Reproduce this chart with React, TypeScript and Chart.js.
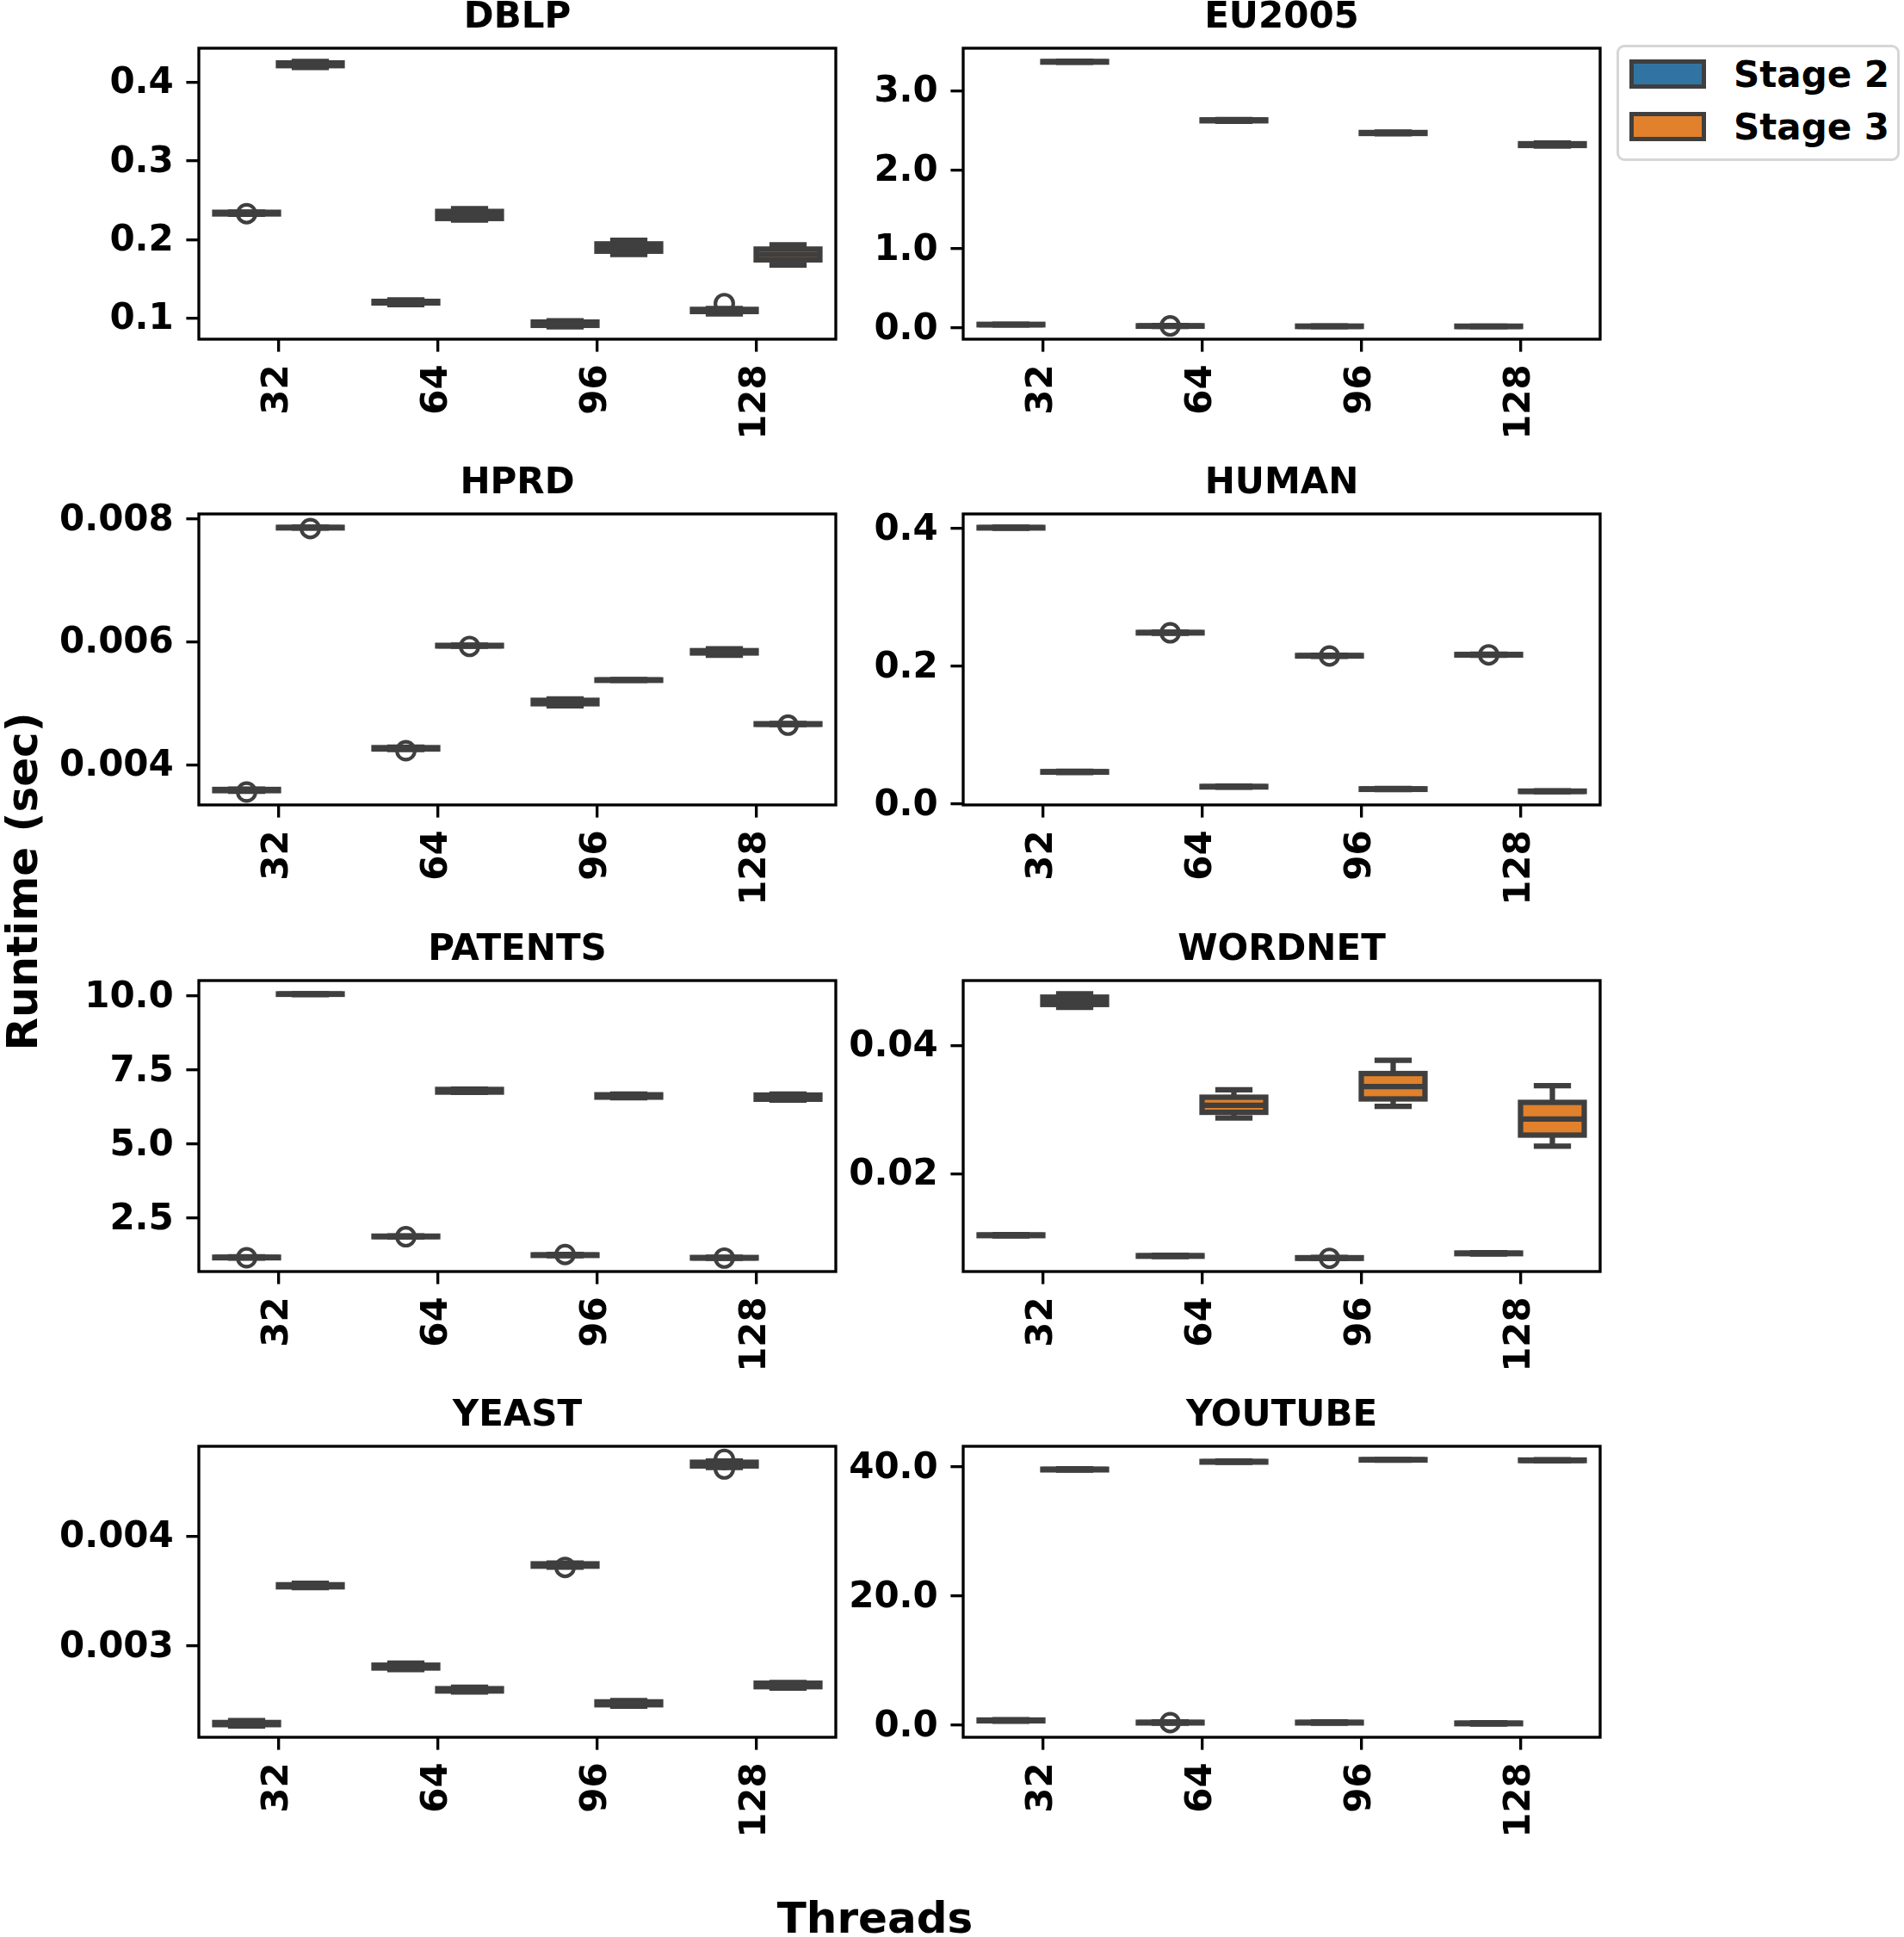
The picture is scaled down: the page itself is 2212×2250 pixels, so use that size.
import React, { useEffect, useRef } from 'react';
import { Chart, registerables } from 'chart.js';

Chart.register(...registerables);

// ---------- data ----------
const THREADS = ['32', '64', '96', '128'];
const SERIES = ['Stage 2', 'Stage 3'];

// Box summaries per thread count: [lower whisker, Q1, median, Q3, upper whisker]
const DBLP_STAGE2 = [
  [0.2322, 0.2325, 0.2335, 0.2346, 0.2349],
  [0.1171, 0.1193, 0.1203, 0.1213, 0.1232],
  [0.0890, 0.0908, 0.0930, 0.0950, 0.0966],
  [0.1054, 0.1084, 0.1098, 0.1111, 0.1122],
];
const DBLP_STAGE3 = [
  [0.4187, 0.4211, 0.4228, 0.4246, 0.4265],
  [0.2248, 0.2267, 0.2312, 0.2357, 0.2393],
  [0.1810, 0.1851, 0.1897, 0.1944, 0.1991],
  [0.1675, 0.1741, 0.1809, 0.1878, 0.1933],
];
const DBLP_STAGE2_OUTLIERS = [[0.2328], [], [], [0.1185]];
const DBLP_STAGE3_OUTLIERS = [[], [], [], []];
const DBLP_TICKS = [0.1, 0.2, 0.3, 0.4];
const DBLP_RANGE = [0.0732, 0.4433];

const EU2005_STAGE2 = [
  [0.036, 0.038, 0.041, 0.044, 0.046],
  [0.018, 0.020, 0.023, 0.026, 0.028],
  [0.016, 0.017, 0.019, 0.022, 0.023],
  [0.015, 0.016, 0.018, 0.021, 0.022],
];
const EU2005_STAGE3 = [
  [3.360, 3.363, 3.367, 3.371, 3.374],
  [2.615, 2.620, 2.626, 2.632, 2.637],
  [2.455, 2.460, 2.466, 2.472, 2.478],
  [2.300, 2.308, 2.319, 2.330, 2.338],
];
const EU2005_STAGE2_OUTLIERS = [[], [0.024], [], []];
const EU2005_STAGE3_OUTLIERS = [[], [], [], []];
const EU2005_TICKS = [0, 1, 2, 3];
const EU2005_RANGE = [-0.144, 3.539];

const HPRD_STAGE2 = [
  [0.003570, 0.003578, 0.003588, 0.003598, 0.003605],
  [0.004248, 0.004256, 0.004266, 0.004278, 0.004285],
  [0.004957, 0.004992, 0.005020, 0.005048, 0.005069],
  [0.005783, 0.005818, 0.005840, 0.005856, 0.005888],
];
const HPRD_STAGE3 = [
  [0.007850, 0.007853, 0.007858, 0.007862, 0.007865],
  [0.005929, 0.005932, 0.005937, 0.005942, 0.005946],
  [0.005370, 0.005373, 0.005377, 0.005381, 0.005384],
  [0.004654, 0.004657, 0.004662, 0.004667, 0.004670],
];
const HPRD_STAGE2_OUTLIERS = [[0.003556], [0.004228], [], []];
const HPRD_STAGE3_OUTLIERS = [[0.007842], [0.005925], [], [0.004644]];
const HPRD_TICKS = [0.004, 0.006, 0.008];
const HPRD_RANGE = [0.003346, 0.00808];

const HUMAN_STAGE2 = [
  [0.4005, 0.4009, 0.4013, 0.4017, 0.4021],
  [0.2480, 0.2484, 0.2488, 0.2492, 0.2496],
  [0.2145, 0.2149, 0.2153, 0.2157, 0.2161],
  [0.2160, 0.2164, 0.2168, 0.2172, 0.2176],
];
const HUMAN_STAGE3 = [
  [0.0458, 0.0462, 0.0466, 0.0470, 0.0474],
  [0.0243, 0.0247, 0.0251, 0.0255, 0.0259],
  [0.0208, 0.0212, 0.0216, 0.0220, 0.0224],
  [0.0178, 0.0181, 0.0184, 0.0187, 0.0190],
];
const HUMAN_STAGE2_OUTLIERS = [[], [0.2486], [0.2150], [0.2166]];
const HUMAN_STAGE3_OUTLIERS = [[], [], [], []];
const HUMAN_TICKS = [0, 0.2, 0.4];
const HUMAN_RANGE = [-0.0014, 0.4213];

const PATENTS_STAGE2 = [
  [1.15, 1.16, 1.17, 1.18, 1.19],
  [1.86, 1.87, 1.88, 1.89, 1.90],
  [1.23, 1.24, 1.25, 1.26, 1.27],
  [1.14, 1.15, 1.16, 1.17, 1.18],
];
const PATENTS_STAGE3 = [
  [10.04, 10.05, 10.06, 10.065, 10.068],
  [6.74, 6.75, 6.79, 6.84, 6.85],
  [6.56, 6.58, 6.62, 6.66, 6.68],
  [6.48, 6.51, 6.58, 6.65, 6.68],
];
const PATENTS_STAGE2_OUTLIERS = [[1.16], [1.87], [1.27], [1.15]];
const PATENTS_STAGE3_OUTLIERS = [[], [], [], []];
const PATENTS_TICKS = [2.5, 5.0, 7.5, 10.0];
const PATENTS_RANGE = [0.696, 10.514];

const WORDNET_STAGE2 = [
  [0.01025, 0.01030, 0.01036, 0.01042, 0.01047],
  [0.00703, 0.00708, 0.00713, 0.00718, 0.00723],
  [0.00672, 0.00675, 0.00680, 0.00685, 0.00688],
  [0.00743, 0.00748, 0.00753, 0.00758, 0.00763],
];
const WORDNET_STAGE3 = [
  [0.04598, 0.04642, 0.04700, 0.04757, 0.04809],
  [0.02870, 0.02957, 0.03068, 0.03193, 0.03310],
  [0.03051, 0.03166, 0.03358, 0.03563, 0.03769],
  [0.02429, 0.02601, 0.02852, 0.03112, 0.03374],
];
const WORDNET_STAGE2_OUTLIERS = [[], [], [0.00676], []];
const WORDNET_STAGE3_OUTLIERS = [[], [], [], []];
const WORDNET_TICKS = [0.02, 0.04];
const WORDNET_RANGE = [0.00469, 0.05016];

const YEAST_STAGE2 = [
  [0.002269, 0.002281, 0.002291, 0.0023005, 0.002319],
  [0.0027841, 0.0027975, 0.002811, 0.0028234, 0.0028422],
  [0.003718, 0.0037261, 0.003737, 0.0037473, 0.003755],
  [0.004625, 0.0046398, 0.004656, 0.0046735, 0.004685],
];
const YEAST_STAGE3 = [
  [0.0035298, 0.0035377, 0.003547, 0.0035565, 0.0035706],
  [0.002580, 0.002588, 0.002598, 0.002609, 0.002622],
  [0.002450, 0.0024623, 0.002476, 0.0024889, 0.002500],
  [0.002615, 0.002627, 0.002643, 0.002659, 0.002666],
];
const YEAST_STAGE2_OUTLIERS = [[], [], [0.003715], [0.004700, 0.004612]];
const YEAST_STAGE3_OUTLIERS = [[], [], [], []];
const YEAST_TICKS = [0.003, 0.004];
const YEAST_RANGE = [0.002166, 0.004819];

const YOUTUBE_STAGE2 = [
  [0.62, 0.68, 0.74, 0.80, 0.86],
  [0.30, 0.35, 0.40, 0.45, 0.50],
  [0.30, 0.35, 0.40, 0.45, 0.50],
  [0.18, 0.23, 0.28, 0.33, 0.38],
];
const YOUTUBE_STAGE3 = [
  [39.50, 39.55, 39.60, 39.65, 39.70],
  [40.70, 40.75, 40.80, 40.85, 40.90],
  [41.05, 41.08, 41.12, 41.14, 41.15],
  [40.95, 40.99, 41.03, 41.07, 41.10],
];
const YOUTUBE_STAGE2_OUTLIERS = [[], [0.40], [], []];
const YOUTUBE_STAGE3_OUTLIERS = [[], [], [], []];
const YOUTUBE_TICKS = [0, 20, 40];
const YOUTUBE_RANGE = [-1.87, 43.2];

type Panel = {
  title: string;
  stage2: number[][];
  stage3: number[][];
  out2: number[][];
  out3: number[][];
  ticks: number[];
  range: number[];
  decimals: number;
};

const PANELS: Panel[] = [
  { title: 'DBLP', stage2: DBLP_STAGE2, stage3: DBLP_STAGE3, out2: DBLP_STAGE2_OUTLIERS, out3: DBLP_STAGE3_OUTLIERS, ticks: DBLP_TICKS, range: DBLP_RANGE, decimals: 1 },
  { title: 'EU2005', stage2: EU2005_STAGE2, stage3: EU2005_STAGE3, out2: EU2005_STAGE2_OUTLIERS, out3: EU2005_STAGE3_OUTLIERS, ticks: EU2005_TICKS, range: EU2005_RANGE, decimals: 1 },
  { title: 'HPRD', stage2: HPRD_STAGE2, stage3: HPRD_STAGE3, out2: HPRD_STAGE2_OUTLIERS, out3: HPRD_STAGE3_OUTLIERS, ticks: HPRD_TICKS, range: HPRD_RANGE, decimals: 3 },
  { title: 'HUMAN', stage2: HUMAN_STAGE2, stage3: HUMAN_STAGE3, out2: HUMAN_STAGE2_OUTLIERS, out3: HUMAN_STAGE3_OUTLIERS, ticks: HUMAN_TICKS, range: HUMAN_RANGE, decimals: 1 },
  { title: 'PATENTS', stage2: PATENTS_STAGE2, stage3: PATENTS_STAGE3, out2: PATENTS_STAGE2_OUTLIERS, out3: PATENTS_STAGE3_OUTLIERS, ticks: PATENTS_TICKS, range: PATENTS_RANGE, decimals: 1 },
  { title: 'WORDNET', stage2: WORDNET_STAGE2, stage3: WORDNET_STAGE3, out2: WORDNET_STAGE2_OUTLIERS, out3: WORDNET_STAGE3_OUTLIERS, ticks: WORDNET_TICKS, range: WORDNET_RANGE, decimals: 2 },
  { title: 'YEAST', stage2: YEAST_STAGE2, stage3: YEAST_STAGE3, out2: YEAST_STAGE2_OUTLIERS, out3: YEAST_STAGE3_OUTLIERS, ticks: YEAST_TICKS, range: YEAST_RANGE, decimals: 3 },
  { title: 'YOUTUBE', stage2: YOUTUBE_STAGE2, stage3: YOUTUBE_STAGE3, out2: YOUTUBE_STAGE2_OUTLIERS, out3: YOUTUBE_STAGE3_OUTLIERS, ticks: YOUTUBE_TICKS, range: YOUTUBE_RANGE, decimals: 1 },
];

// ---------- styling & layout ----------
const FONT_FAMILY = '"DejaVu Sans", "Liberation Sans", sans-serif';
const TEXT_SIZE = 42;
const LABEL_SIZE = 50;
const BLUE = '#3274a1';
const ORANGE = '#e1812c';
const LINE_COLOR = '#3f3f3f';

const PLOT_W = 740;
const PLOT_H = 338;
const Y_AXIS_W = 230;
const X_AXIS_H = 130;
const TITLE_SPACE = 56;
const RIGHT_PAD = 10;
const CANVAS_W = Y_AXIS_W + PLOT_W + RIGHT_PAD;
const CANVAS_H = TITLE_SPACE + PLOT_H + X_AXIS_H;
const COL_LEFT = [231, 1119];
const ROW_TOP = [56, 597, 1139, 1680];

const TICK_LEN = 14.6;
const TICK_PAD = 14.6;
const SPINE_W = 3.33;
const BOX_LW = 6.25;
const FLIER_R = 10.4;
const FLIER_LW = 4.17;

// Draws box outlines, whiskers, caps, medians and fliers on top of the
// floating bars (which supply the box fill), then the axes frame and title.
const boxPlotPlugin = {
  id: 'boxPlot',
  afterDatasetsDraw(chart: any) {
    const { ctx, chartArea: a, scales } = chart;
    const y = scales.y;
    const py = (v: number) => y.getPixelForValue(v);
    const seg = (x1: number, y1: number, x2: number, y2: number) => {
      ctx.beginPath();
      ctx.moveTo(x1, y1);
      ctx.lineTo(x2, y2);
      ctx.stroke();
    };
    ctx.save();
    ctx.beginPath();
    ctx.rect(a.left, a.top, a.right - a.left, a.bottom - a.top);
    ctx.clip();
    ctx.strokeStyle = LINE_COLOR;
    chart.data.datasets.forEach((ds: any, d: number) => {
      const meta = chart.getDatasetMeta(d);
      meta.data.forEach((bar: any, i: number) => {
        const { x, width } = bar.getProps(['x', 'width'], true);
        const [lo, q1, med, q3, hi] = ds.boxes[i];
        const left = x - width / 2;
        const right = x + width / 2;
        ctx.lineWidth = BOX_LW;
        ctx.lineJoin = 'miter';
        ctx.lineCap = 'butt';
        seg(x, py(q3), x, py(hi));
        seg(x, py(q1), x, py(lo));
        ctx.lineCap = 'square';
        const cw = width / 4;
        seg(x - cw, py(hi), x + cw, py(hi));
        seg(x - cw, py(lo), x + cw, py(lo));
        ctx.lineCap = 'butt';
        ctx.strokeRect(left, py(q3), width, py(q1) - py(q3));
        seg(left, py(med), right, py(med));
        ctx.lineWidth = FLIER_LW;
        (ds.outliers[i] || []).forEach((v: number) => {
          ctx.beginPath();
          ctx.arc(x, py(v), FLIER_R, 0, Math.PI * 2);
          ctx.stroke();
        });
      });
    });
    ctx.restore();
  },
  afterDraw(chart: any, _args: any, opts: any) {
    const { ctx, chartArea: a } = chart;
    ctx.save();
    ctx.strokeStyle = '#000';
    ctx.lineWidth = SPINE_W;
    ctx.lineJoin = 'miter';
    ctx.strokeRect(a.left, a.top, a.right - a.left, a.bottom - a.top);
    ctx.fillStyle = '#000';
    ctx.font = `bold ${TEXT_SIZE}px ${FONT_FAMILY}`;
    ctx.textAlign = 'center';
    ctx.textBaseline = 'alphabetic';
    ctx.fillText(opts.title, (a.left + a.right) / 2, a.top - 24.5);
    ctx.restore();
  },
};

const tickFont = { family: FONT_FAMILY, size: TEXT_SIZE, weight: 'bold' as const };

function BoxPanel({ panel, left, top }: { panel: Panel; left: number; top: number }) {
  const ref = useRef<HTMLCanvasElement>(null);

  useEffect(() => {
    const canvas = ref.current;
    if (!canvas) return;
    const chart = new Chart(canvas, {
      type: 'bar',
      data: {
        labels: THREADS,
        datasets: [
          {
            label: SERIES[0],
            data: panel.stage2.map((b) => [b[1], b[3]]),
            backgroundColor: BLUE,
            borderWidth: 0,
            categoryPercentage: 0.8,
            barPercentage: 1.0,
            boxes: panel.stage2,
            outliers: panel.out2,
          } as any,
          {
            label: SERIES[1],
            data: panel.stage3.map((b) => [b[1], b[3]]),
            backgroundColor: ORANGE,
            borderWidth: 0,
            categoryPercentage: 0.8,
            barPercentage: 1.0,
            boxes: panel.stage3,
            outliers: panel.out3,
          } as any,
        ],
      },
      options: {
        responsive: false,
        animation: false,
        devicePixelRatio: 1,
        layout: { padding: { top: TITLE_SPACE, right: RIGHT_PAD, left: 0, bottom: 0 } },
        plugins: {
          legend: { display: false },
          tooltip: { enabled: false },
          title: { display: false },
          boxPlot: { title: panel.title },
        } as any,
        scales: {
          x: {
            type: 'category',
            offset: true,
            grid: {
              offset: false,
              drawOnChartArea: false,
              drawTicks: true,
              tickLength: TICK_LEN,
              lineWidth: SPINE_W,
              color: '#000',
            },
            border: { display: false },
            ticks: {
              minRotation: 90,
              maxRotation: 90,
              padding: TICK_PAD,
              color: '#000',
              font: tickFont,
            },
            afterFit: (scale: any) => {
              scale.height = X_AXIS_H;
            },
          },
          y: {
            type: 'linear',
            min: panel.range[0],
            max: panel.range[1],
            grid: {
              drawOnChartArea: false,
              drawTicks: true,
              tickLength: TICK_LEN,
              lineWidth: SPINE_W,
              color: '#000',
            },
            border: { display: false },
            ticks: {
              padding: TICK_PAD,
              labelOffset: 2,
              color: '#000',
              font: tickFont,
              callback: (v: any) => Number(v).toFixed(panel.decimals),
            },
            afterBuildTicks: (scale: any) => {
              scale.ticks = panel.ticks.map((v) => ({ value: v }));
            },
            afterFit: (scale: any) => {
              scale.width = Y_AXIS_W;
            },
          },
        },
      } as any,
      plugins: [boxPlotPlugin],
    });
    return () => chart.destroy();
  }, [panel]);

  return (
    <canvas
      ref={ref}
      width={CANVAS_W}
      height={CANVAS_H}
      style={{ position: 'absolute', left, top, width: CANVAS_W, height: CANVAS_H }}
    />
  );
}

function LegendItem({ color, label, top }: { color: string; label: string; top: number }) {
  return (
    <>
      <div
        style={{
          position: 'absolute',
          left: 12,
          top,
          width: 89,
          height: 34,
          boxSizing: 'border-box',
          border: `5.5px solid ${LINE_COLOR}`,
          background: color,
        }}
      />
      <div
        style={{
          position: 'absolute',
          left: 133,
          top: top - 7,
          height: 50,
          lineHeight: '50px',
          fontFamily: FONT_FAMILY,
          fontWeight: 'bold',
          fontSize: TEXT_SIZE,
          color: '#000',
          whiteSpace: 'nowrap',
        }}
      >
        {label}
      </div>
    </>
  );
}

export default function App() {
  return (
    <div
      style={{
        position: 'absolute',
        left: 0,
        top: 0,
        width: 2212,
        height: 2250,
        overflow: 'hidden',
        background: '#fff',
      }}
    >
      {PANELS.map((p, i) => (
        <BoxPanel
          key={p.title}
          panel={p}
          left={COL_LEFT[i % 2] - Y_AXIS_W}
          top={ROW_TOP[Math.floor(i / 2)] - TITLE_SPACE}
        />
      ))}

      <div
        style={{
          position: 'absolute',
          left: 1878,
          top: 52,
          width: 329,
          height: 135,
          boxSizing: 'border-box',
          border: '3px solid #d6d6d6',
          borderRadius: 9,
          background: '#fff',
        }}
      >
        <LegendItem color={BLUE} label={SERIES[0]} top={14} />
        <LegendItem color={ORANGE} label={SERIES[1]} top={75} />
      </div>

      <div
        style={{
          position: 'absolute',
          left: 26 - 300,
          top: 1024 - 25,
          width: 600,
          height: 50,
          lineHeight: '50px',
          textAlign: 'center',
          transform: 'rotate(-90deg)',
          fontFamily: FONT_FAMILY,
          fontWeight: 'bold',
          fontSize: LABEL_SIZE,
          color: '#000',
          whiteSpace: 'nowrap',
        }}
      >
        Runtime (sec)
      </div>

      <div
        style={{
          position: 'absolute',
          left: 1016.5 - 300,
          top: 2203,
          width: 600,
          height: 50,
          lineHeight: '50px',
          textAlign: 'center',
          fontFamily: FONT_FAMILY,
          fontWeight: 'bold',
          fontSize: LABEL_SIZE,
          color: '#000',
          whiteSpace: 'nowrap',
        }}
      >
        Threads
      </div>
    </div>
  );
}
